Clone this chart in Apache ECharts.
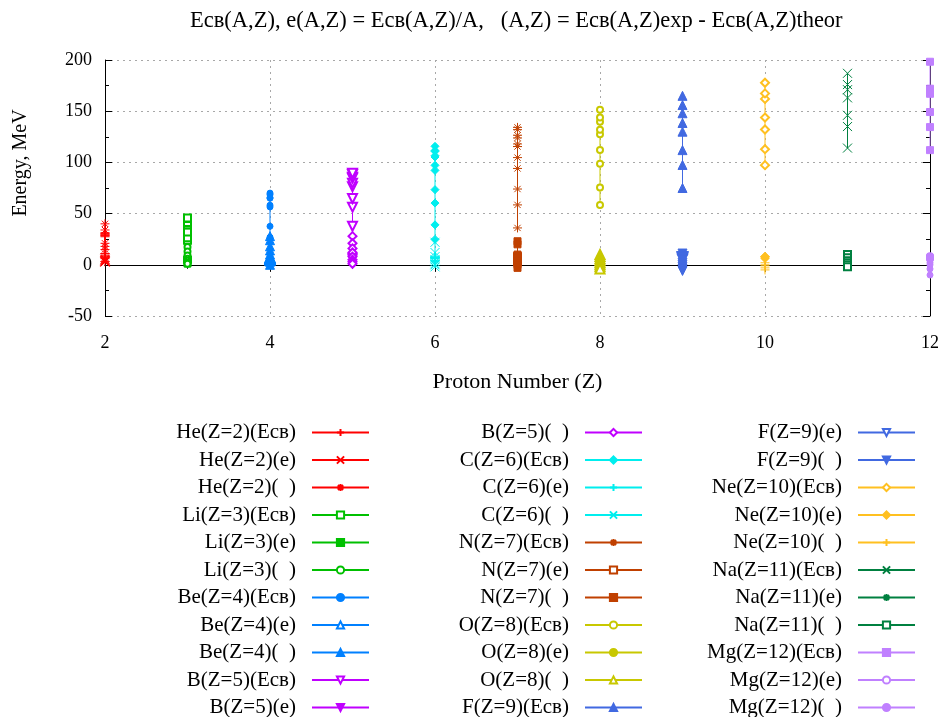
<!DOCTYPE html>
<html>
<head>
<meta charset="utf-8">
<script src="https://cdn.jsdelivr.net/npm/echarts@6/dist/echarts.min.js"></script>
<style>
  html, body { margin: 0; padding: 0; background: #fff; }
  #chart { width: 942px; height: 717px; }
</style>
</head>
<body>
<div id="chart"></div>
<script>
// proton numbers and element names
const zNumbers = [2, 3, 4, 5, 6, 7, 8, 9, 10, 11, 12];
const elements = ['He', 'Li', 'Be', 'B', 'C', 'N', 'O', 'F', 'Ne', 'Na', 'Mg'];

// binding energy Ecв, MeV (one list per element)
const ecvValues = [
  [7.7, 28.3, 27.4, 29.3, 28.8, 31.4, 30.3, 30.3],
  [24.0, 26.3, 32.0, 39.2, 41.3, 45.3, 45.6],
  [26.9, 37.6, 56.5, 58.2, 65.0, 65.5, 68.6, 70.0],
  [37.7, 56.3, 64.8, 76.2, 79.6, 84.5, 85.4, 88.2, 89.5],
  [24.8, 39.0, 60.3, 73.4, 92.2, 97.1, 105.3, 106.5, 110.8, 111.5, 115.7],
  [36.0, 58.5, 74.0, 94.1, 104.7, 115.5, 118.0, 123.9, 126.5, 132.0, 134.2],
  [58.5, 75.6, 98.7, 112.0, 127.6, 131.8, 139.8, 143.8, 151.4],
  [75.0, 97.5, 112.0, 130.0, 138.5, 148.0, 156.0, 165.0],
  [97.3, 112.9, 132.1, 143.8, 162.0, 167.4, 177.8],
  [114.0, 135.0, 146.0, 163.0, 171.0, 176.0, 187.0],
  [112.0, 134.5, 149.2, 167.0, 172.0, 198.3]
];

// binding energy per nucleon e, MeV
const eValues = [
  [2.6, 7.1, 5.5, 4.9, 4.1, 3.9, 3.4, 3.0],
  [1.2, 5.3, 5.3, 5.6, 5.2, 5.0, 4.5, 4.2],
  [4.5, 5.4, 7.1, 6.5, 6.5, 6.0, 5.7, 5.0],
  [4.7, 6.3, 6.5, 6.9, 6.6, 6.5, 6.1, 5.9, 5.3],
  [3.1, 4.3, 6.0, 6.7, 7.7, 7.5, 7.5, 7.1, 6.9, 6.6, 6.4],
  [3.0, 5.3, 6.2, 7.2, 7.5, 7.7, 7.4, 7.3, 7.0, 6.9, 6.7],
  [4.9, 5.8, 7.1, 7.5, 8.0, 7.8, 7.8, 7.6, 7.6],
  [5.4, 6.5, 7.0, 7.5, 7.6, 7.8, 7.7, 7.7],
  [6.1, 6.6, 7.3, 7.6, 8.0, 8.0, 8.1],
  [6.0, 6.9, 7.3, 7.8, 7.9, 8.0, 8.1],
  [5.9, 6.7, 6.8, 7.6, 7.8, 8.3]
];

// difference exp - theor, MeV
const deltaValues = [
  [40, 34, 21, 18, 15, 11, 6, 3],
  [17.5, 13, 9, 6, 4, 2, 1],
  [28, 24, 18, 14, 10, 6, 3, 0],
  [28, 21, 16, 12, 8, 5, 3, 1],
  [22, 12, 8, 5, 3, 1, 0, -2],
  [23, 20, 10, 7, 4, 2, 0, -3],
  [10, 8, 6, 4, 2, 0, -2, -4],
  [11, 8, 5, 2, 0, -2, -4, -6],
  [2, 0, -1, -3, -5],
  [10, 7, 4, 2, 0, -2],
  [8, 5, 2, 0, -4, -10]
];

const seriesKinds = ['Ecв', 'e', '  '];
const yTicks = [-50, 0, 50, 100, 150, 200];

const colors = ['#ff0000', '#00c000', '#0080ff', '#c000ff', '#00eeee', '#c04000',
  '#c8c800', '#4169e1', '#ffc020', '#008040', '#c080ff'];

// gnuplot point types 1..13
const shapes = [
  {symbol: 'path://M0,5L10,5M5,0L5,10'},
  {symbol: 'path://M0,0L10,10M0,10L10,0'},
  {symbol: 'path://M0,5L10,5M5,0L5,10M1.5,1.5L8.5,8.5M1.5,8.5L8.5,1.5'},
  {symbol: 'emptyRect', size: 7},
  {symbol: 'rect', size: 7},
  {symbol: 'emptyCircle', size: 6},
  {symbol: 'circle', size: 6},
  {symbol: 'emptyTriangle', size: 9},
  {symbol: 'triangle', size: 9},
  {symbol: 'emptyTriangle', size: 9, rotate: 180},
  {symbol: 'triangle', size: 9, rotate: 180},
  {symbol: 'emptyDiamond', size: 8},
  {symbol: 'diamond', size: 8}
];

const font = 'Liberation Serif';
const series = [];
const names = [];

elements.forEach((el, i) => {
  const z = zNumbers[i];
  [ecvValues[i], eValues[i], deltaValues[i]].forEach((vals, k) => {
    const name = el + '(Z=' + z + ')(' + seriesKinds[k] + ')';
    const shape = shapes[(i * 3 + k) % 13];
    names.push(name);
    series.push({
      name: name,
      type: 'line',
      data: vals.map(v => [z, v]),
      symbol: shape.symbol,
      symbolSize: shape.size || 9,
      symbolRotate: shape.rotate || 0,
      showAllSymbol: true,
      clip: false,
      lineStyle: {color: colors[i], width: 1},
      itemStyle: {color: colors[i], borderColor: colors[i], borderWidth: 1}
    });
  });
});

function makeLegend(list, right) {
  return {
    data: list,
    orient: 'vertical',
    align: 'right',
    right: right,
    top: 422,
    height: 320,
    padding: 0,
    itemWidth: 57,
    itemHeight: 9,
    itemGap: 6.5,
    selectedMode: false,
    textStyle: {fontFamily: font, fontSize: 21, color: '#000', padding: [0, 11, 0, 0]}
  };
}

const axisCommon = {
  axisLine: {lineStyle: {color: '#000', width: 1}},
  axisTick: {inside: true, length: 7, lineStyle: {color: '#000'}},
  minorTick: {show: true, splitNumber: 2, length: 4, lineStyle: {color: '#000'}},
  axisLabel: {fontFamily: font, fontSize: 18, color: '#000'}
};

const chart = echarts.init(document.getElementById('chart'));
chart.setOption({
  animation: false,
  backgroundColor: '#fff',
  title: {
    text: 'Ecв(A,Z), e(A,Z) = Ecв(A,Z)/A,   (A,Z) = Ecв(A,Z)exp - Ecв(A,Z)theor',
    left: 185,
    top: 5,
    textStyle: {fontFamily: font, fontSize: 22.5, fontWeight: 'normal', color: '#000'}
  },
  legend: [
    makeLegend(names.slice(0, 11), 572),
    makeLegend(names.slice(11, 22), 299),
    makeLegend(names.slice(22, 33), 26)
  ],
  grid: {left: 105, right: 10, top: 60, bottom: 401, containLabel: false},
  xAxis: [
    Object.assign({}, axisCommon, {
      type: 'value', min: 2, max: 12, interval: 2,
      name: 'Proton Number (Z)', nameLocation: 'middle', nameGap: 55,
      nameTextStyle: {fontFamily: font, fontSize: 22, color: '#000'},
      axisLabel: {fontFamily: font, fontSize: 18, color: '#000', margin: 18},
      splitLine: {show: true, lineStyle: {color: '#a8a8a8', type: [2, 4]}}
    }),
    Object.assign({}, axisCommon, {
      type: 'value', min: 2, max: 12, interval: 2, position: 'top',
      axisLabel: {show: false}, splitLine: {show: false}
    })
  ],
  yAxis: [
    Object.assign({}, axisCommon, {
      type: 'value', min: yTicks[0], max: yTicks[yTicks.length - 1], interval: 50,
      name: 'Energy, MeV', nameLocation: 'middle', nameGap: 74,
      nameTextStyle: {fontFamily: font, fontSize: 20, color: '#000', padding: [0, 0, 0, 50]},
      axisLabel: {fontFamily: font, fontSize: 18, color: '#000', margin: 13},
      splitLine: {show: true, lineStyle: {color: '#a8a8a8', type: [2, 4]}}
    }),
    Object.assign({}, axisCommon, {
      type: 'value', min: yTicks[0], max: yTicks[yTicks.length - 1], interval: 50, position: 'right',
      axisLabel: {show: false}, splitLine: {show: false}
    })
  ],
  series: series
});
</script>
</body>
</html>
